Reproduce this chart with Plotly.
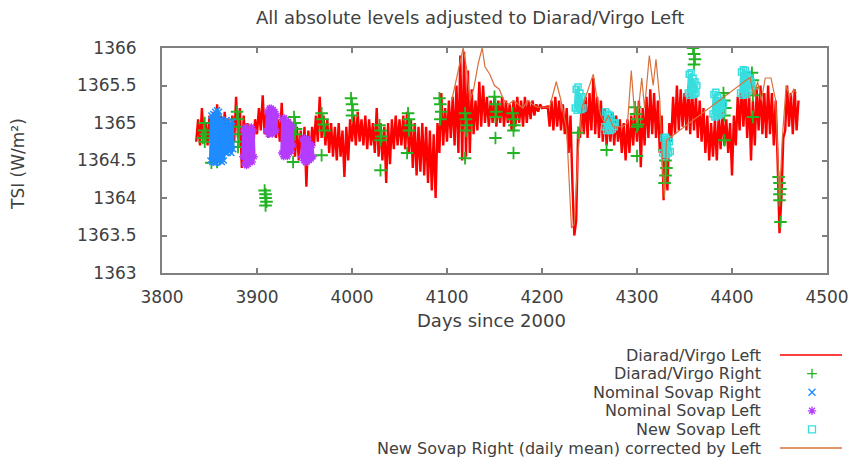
import plotly.graph_objects as go

# ---------------- data ----------------
red_first_day, red_step = 3836, 2
red_vals = [
    1364.75, 1365.05, 1364.7, 1365.2, 1364.8, 1365.0, 1364.7, 1365.1, 1364.65, 1365.15,
    1364.7, 1365.25, 1364.75, 1365.1, 1364.7, 1365.15, 1364.8, 1365.05, 1364.7, 1365.1,
    1364.75, 1365.35, 1364.8, 1365.2, 1364.4, 1365.1, 1364.7, 1365.0, 1364.6, 1364.95,
    1364.65, 1365.05, 1364.85, 1365.2, 1364.9, 1365.37, 1364.85, 1365.15, 1364.8, 1365.1,
    1364.85, 1365.1, 1364.8, 1365.05, 1364.75, 1365.27, 1364.7, 1365.0, 1364.75, 1365.05,
    1364.6, 1365.0, 1364.55, 1364.95, 1364.5, 1364.9, 1364.55, 1364.95, 1364.15, 1364.9,
    1364.5, 1364.95, 1364.7, 1365.1, 1364.75, 1365.35, 1364.8, 1365.1, 1364.7, 1365.05,
    1364.6, 1365.0, 1364.55, 1364.95, 1364.5, 1365.0, 1364.55, 1364.9, 1364.28, 1364.95,
    1364.5, 1365.05, 1364.75, 1365.1, 1364.7, 1365.15, 1364.75, 1365.05, 1364.7, 1365.1,
    1364.65, 1365.05, 1364.7, 1365.0, 1364.6, 1365.2, 1364.55, 1365.0, 1364.5, 1364.95,
    1364.2, 1365.0, 1364.45, 1365.05, 1364.65, 1365.1, 1364.7, 1365.05, 1364.7, 1365.1,
    1364.65, 1365.15, 1364.6, 1365.05, 1364.4, 1365.0, 1364.3, 1364.95, 1364.35, 1365.0,
    1364.3, 1364.95, 1364.2, 1364.9, 1364.1, 1364.85, 1364.0, 1365.0, 1364.6, 1365.4,
    1364.7, 1365.2, 1364.75, 1365.3, 1364.8, 1365.35, 1364.7, 1365.5, 1364.6, 1365.9,
    1364.5, 1365.95, 1364.55, 1365.7, 1364.6, 1365.45, 1364.85, 1365.3, 1364.9, 1365.55,
    1364.95, 1365.5, 1365.0, 1365.35, 1364.95, 1365.3, 1365.0, 1365.35, 1364.95, 1365.3,
    1365.0, 1365.35, 1364.95, 1365.3, 1365.0, 1365.25, 1364.9, 1365.3, 1364.95, 1365.35,
    1365.0, 1365.3, 1364.95, 1365.35, 1365.0, 1365.3, 1365.05, 1365.3, 1365.1, 1365.25,
    1365.15, 1365.25, 1365.2, 1365.21, 1365.21, 1365.22, 1364.95, 1365.3, 1364.9, 1365.35,
    1364.95, 1365.3, 1364.9, 1365.25, 1364.85, 1365.2, 1364.6, 1365.1, 1364.2, 1363.5,
    1363.7, 1364.9, 1364.8, 1365.3, 1364.85, 1365.35, 1364.8, 1365.4, 1364.9, 1365.6,
    1364.85, 1365.35, 1364.8, 1365.3, 1364.75, 1365.2, 1364.7, 1365.1, 1364.75, 1365.15,
    1364.7, 1365.1, 1364.75, 1365.05, 1364.6, 1365.0, 1364.5, 1365.05, 1364.6, 1365.1,
    1364.7, 1365.2, 1364.75, 1365.3, 1364.41, 1365.2, 1364.7, 1365.35, 1364.8, 1365.45,
    1364.85, 1365.4, 1364.8, 1365.3, 1364.6, 1365.1, 1363.97, 1364.7, 1364.1, 1365.0,
    1364.75, 1365.35, 1364.85, 1365.5, 1364.9, 1365.45, 1364.95, 1365.4, 1364.9, 1365.5,
    1364.85, 1365.45, 1364.9, 1365.35, 1364.8, 1365.3, 1364.75, 1365.2, 1364.6, 1365.1,
    1364.5, 1365.0, 1364.55, 1365.05, 1364.5, 1365.1, 1364.65, 1365.15, 1364.7, 1365.05,
    1364.6, 1365.0, 1364.3, 1365.1, 1364.7, 1365.35, 1364.9, 1365.5, 1364.95, 1365.45,
    1364.8, 1365.4, 1364.5, 1365.3, 1364.7, 1365.45, 1364.9, 1365.5, 1364.85, 1365.4,
    1364.8, 1365.5, 1364.85, 1365.4, 1364.7, 1365.3, 1364.5, 1363.53, 1364.0, 1364.8,
    1364.9, 1365.5, 1364.95, 1365.4, 1364.85, 1365.45, 1364.9, 1365.3,
]

green_day = [3843, 3844, 3845, 3846, 3845, 3852, 3858,
             3879, 3880, 3881, 3880, 3881, 3880,
             3908, 3909, 3909, 3910, 3909,
             3939, 3940, 3941, 3940, 3938, 3968,
             3968, 3969, 3970, 3971,
             3999, 4000, 4001, 4000,
             4029, 4030, 4031, 4030, 4030,
             4059, 4060, 4061, 4060, 4058,
             4092, 4093, 4094, 4093,
             4119, 4120, 4121, 4120, 4119,
             4150, 4151, 4152, 4151, 4151,
             4169, 4170, 4171, 4170, 4170,
             4238, 4268,
             4298, 4299, 4300, 4301, 4300, 4300,
             4329, 4330, 4331, 4330, 4329,
             4359, 4360, 4361, 4360,
             4391, 4392, 4393, 4392, 4392,
             4421, 4422, 4423, 4422, 4422,
             4449, 4450, 4451, 4450, 4450, 4451]
green_val = [1364.8, 1364.9, 1365.0, 1364.85, 1364.75, 1364.47, 1364.48,
             1365.15, 1365.05, 1364.95, 1364.85, 1364.75, 1364.68,
             1364.1, 1364.05, 1364.0, 1363.95, 1363.9,
             1365.08, 1365.0, 1364.92, 1364.85, 1364.48, 1364.57,
             1365.13, 1365.05, 1364.98, 1364.9,
             1365.33, 1365.25, 1365.17, 1365.1,
             1364.97, 1364.9, 1364.82, 1364.77, 1364.37,
             1365.13, 1365.05, 1364.97, 1364.9, 1364.6,
             1365.33, 1365.25, 1365.15, 1365.05,
             1365.13, 1365.05, 1364.97, 1364.9, 1364.53,
             1365.35, 1365.25, 1365.15, 1365.08, 1364.8,
             1365.13, 1365.05, 1364.97, 1364.9, 1364.6,
             1364.87, 1364.64,
             1365.21, 1365.12, 1365.05, 1364.98, 1364.95, 1364.56,
             1364.64, 1364.5, 1364.4, 1364.3, 1364.2,
             1366.0, 1365.92, 1365.85, 1365.78,
             1365.4, 1365.3, 1365.2, 1365.1, 1364.77,
             1365.67, 1365.57, 1365.47, 1365.37, 1365.08,
             1364.28, 1364.2, 1364.12, 1364.05, 1363.97, 1363.68]

blue_day = list(range(3851, 3876))
blue_val = [1364.5, 1365.1, 1364.48, 1365.12, 1364.47, 1365.15, 1364.47, 1365.17, 1364.48,
            1365.15, 1364.5, 1365.05, 1364.48, 1365.03, 1364.5, 1365.02, 1364.6, 1365.04,
            1364.6, 1365.02, 1364.62, 1365.0, 1364.6, 1365.02, 1364.65]

purple_first_days = [3885, 3910, 3926, 3947]
purple_vals = [
    [1364.55, 1364.9, 1364.45, 1364.95, 1364.43, 1364.9, 1364.45, 1364.85, 1364.5, 1364.95, 1364.48, 1364.9, 1364.55],
    [1364.9, 1365.15, 1364.85, 1365.2, 1364.87, 1365.2, 1364.85, 1365.18, 1364.88, 1365.15, 1364.9, 1365.1],
    [1364.6, 1365.05, 1364.55, 1365.07, 1364.58, 1365.0, 1364.55, 1365.02, 1364.6, 1364.98, 1364.62, 1364.95, 1364.7],
    [1364.55, 1364.78, 1364.5, 1364.8, 1364.47, 1364.75, 1364.48, 1364.78, 1364.5, 1364.72, 1364.52, 1364.7, 1364.55],
]

cyan_first_days = [4235, 4266, 4327, 4354, 4380, 4409]
cyan_vals = [
    [1365.2, 1365.45, 1365.17, 1365.48, 1365.2, 1365.4, 1365.18, 1365.35, 1365.2],
    [1364.95, 1365.15, 1364.9, 1365.12, 1364.92, 1365.1, 1364.9, 1365.05, 1364.92, 1365.0, 1364.95, 1365.0],
    [1364.6, 1364.8, 1364.55, 1364.81, 1364.58, 1364.78, 1364.6, 1364.75, 1364.62],
    [1365.4, 1365.65, 1365.37, 1365.67, 1365.4, 1365.6, 1365.38, 1365.55, 1365.4, 1365.5],
    [1365.12, 1365.38, 1365.08, 1365.41, 1365.1, 1365.35, 1365.1, 1365.3, 1365.12, 1365.28, 1365.15, 1365.25],
    [1365.4, 1365.68, 1365.37, 1365.71, 1365.4, 1365.7, 1365.38, 1365.65, 1365.42, 1365.6, 1365.45, 1365.55, 1365.5],
]

orange_day = [4105, 4110, 4117, 4121, 4124, 4128, 4133, 4137, 4140, 4145, 4150, 4155, 4160,
              4165, 4170, 4180, 4185, 4190, 4195, 4208, 4212, 4215, 4220, 4226, 4231, 4234,
              4238, 4242, 4246, 4250, 4254, 4257, 4262, 4266, 4270, 4275, 4285, 4290, 4294,
              4297, 4300, 4305, 4308, 4313, 4317, 4320, 4324, 4327, 4329, 4331, 4419, 4423,
              4427, 4431, 4435, 4441, 4446, 4450, 4453, 4457, 4461, 4465, 4468]
orange_val = [1365.3, 1365.6, 1366.0, 1365.7, 1365.3, 1365.45, 1365.8, 1366.0, 1365.75, 1365.65,
              1365.5, 1365.45, 1365.3, 1365.25, 1365.3, 1365.2, 1365.3, 1365.25, 1365.21, 1365.21,
              1365.4, 1365.55, 1365.3, 1364.9, 1363.6, 1363.65, 1364.6, 1365.2, 1365.35, 1365.5,
              1365.65, 1365.4, 1365.1, 1365.0, 1365.1, 1364.95, 1364.95, 1365.0, 1365.7, 1365.2,
              1365.0, 1365.6, 1365.2, 1365.9, 1365.5, 1365.85, 1365.3, 1364.4, 1364.0, 1364.77,
              1365.61, 1365.35, 1365.55, 1365.3, 1365.6, 1365.6, 1365.3, 1364.0, 1364.8, 1365.5,
              1365.35, 1365.45, 1365.4]

series_names = ["Diarad/Virgo Left", "Diarad/Virgo Right", "Nominal Sovap Right",
                "Nominal Sovap Left", "New Sovap Left",
                "New Sovap Right (daily mean) corrected by Left"]
x_ticks = [3800, 3900, 4000, 4100, 4200, 4300, 4400, 4500]
y_ticks = [1363, 1363.5, 1364, 1364.5, 1365, 1365.5, 1366]
y_tick_text = ["1363", "1363.5", "1364", "1364.5", "1365", "1365.5", "1366"]

# ---------------- styles ----------------
RED = "#ff0000"
GREEN = "#22b422"
BLUE = "#1e8cff"
PURPLE = "#b43cff"
CYAN = "#38dede"
ORANGE = "#d9703c"
TEXT = "#404040"
AXIS = "#808080"
FONT = "DejaVu Sans"

red_days = list(range(red_first_day, red_first_day + red_step * len(red_vals), red_step))


def blocks(first_days, vals):
    xs, ys = [], []
    for d0, v in zip(first_days, vals):
        xs += list(range(d0, d0 + len(v))) + [None]
        ys += list(v) + [None]
    return xs, ys


purple_x, purple_y = blocks(purple_first_days, purple_vals)
cyan_x, cyan_y = blocks(cyan_first_days, cyan_vals)

fig = go.Figure()
fig.add_trace(go.Scatter(x=red_days, y=red_vals, mode="lines",
                         line=dict(color=RED, width=2.4), name=series_names[0]))
fig.add_trace(go.Scatter(x=green_day, y=green_val, mode="markers",
                         marker=dict(symbol="cross-thin-open", size=9, color=GREEN,
                                     line=dict(color=GREEN, width=1.8)),
                         name=series_names[1]))
fig.add_trace(go.Scatter(x=blue_day, y=blue_val, mode="lines+markers",
                         line=dict(color=BLUE, width=3),
                         marker=dict(symbol="x-thin-open", size=6, color=BLUE,
                                     line=dict(color=BLUE, width=1.5)),
                         name=series_names[2]))
fig.add_trace(go.Scatter(x=purple_x, y=purple_y, mode="lines+markers",
                         line=dict(color=PURPLE, width=3),
                         marker=dict(symbol="asterisk-open", size=6, color=PURPLE,
                                     line=dict(color=PURPLE, width=1.5)),
                         name=series_names[3]))
fig.add_trace(go.Scatter(x=cyan_x, y=cyan_y, mode="lines+markers",
                         line=dict(color=CYAN, width=3),
                         marker=dict(symbol="square-open", size=6, color=CYAN,
                                     line=dict(color=CYAN, width=1.5)),
                         name=series_names[4]))
fig.add_trace(go.Scatter(x=orange_day, y=orange_val, mode="lines",
                         line=dict(color=ORANGE, width=1.2), name=series_names[5]))

# ---------------- custom legend (text left of sample, as in the reference) ----------------
row_y = [355, 373.6, 392.2, 410.8, 429.4, 448]
sample_x = [780, 842]
sample_sym = [None, ("cross-thin-open", GREEN), ("x-thin-open", BLUE),
              ("asterisk-open", PURPLE), ("square-open", CYAN), None]
line_cols = [RED, None, None, None, None, ORANGE]
for i, name in enumerate(series_names):
    if line_cols[i]:
        fig.add_trace(go.Scatter(x=sample_x, y=[row_y[i]] * 2, mode="lines",
                                 line=dict(color=line_cols[i], width=1.3),
                                 xaxis="x2", yaxis="y2", showlegend=False, hoverinfo="skip"))
    else:
        sym, col = sample_sym[i]
        fig.add_trace(go.Scatter(x=[812], y=[row_y[i]], mode="markers",
                                 marker=dict(symbol=sym, size=7, color=col,
                                             line=dict(color=col, width=1.3)),
                                 xaxis="x2", yaxis="y2", showlegend=False, hoverinfo="skip"))
    fig.add_annotation(x=763, y=row_y[i], xref="x2", yref="y2", text=name, showarrow=False,
                       xanchor="right", yanchor="middle",
                       font=dict(family=FONT, size=16, color=TEXT))

W, H = 852, 461
ML, MT = 162, 48
PW, PH = W - ML, H - MT
plot_right, plot_bottom = 827, 273


def px_x(px):
    return (px - ML) / PW


def px_y(py):
    return 1 - (py - MT) / PH


axis_common = dict(showline=True, linecolor=AXIS, linewidth=2, mirror="ticks",
                   ticks="inside", ticklen=5, tickwidth=1.5, tickcolor=AXIS,
                   showgrid=False, zeroline=False,
                   tickfont=dict(family=FONT, size=17, color=TEXT))

fig.update_layout(
    width=W, height=H, autosize=False,
    margin=dict(l=ML, r=0, t=MT, b=0, pad=0),
    paper_bgcolor="white", plot_bgcolor="white",
    showlegend=False,
    xaxis=dict(range=[3800, 4500], tickvals=x_ticks, domain=[0, px_x(plot_right)],
               ticklabelstandoff=8, automargin=False, **axis_common),
    yaxis=dict(range=[1363, 1366], tickvals=y_ticks, ticktext=y_tick_text,
               domain=[px_y(plot_bottom), 1],
               ticklabelstandoff=20, automargin=False, **axis_common),
    xaxis2=dict(domain=[px_x(540), 1], range=[540, 852], visible=False, fixedrange=True),
    yaxis2=dict(domain=[0, px_y(340)], range=[461, 340], visible=False, fixedrange=True),
)

fig.add_annotation(x=px_x(470), y=px_y(18), xref="paper", yref="paper",
                   text="All absolute levels adjusted to Diarad/Virgo Left", showarrow=False,
                   xanchor="center", yanchor="middle", font=dict(family=FONT, size=18, color=TEXT))
fig.add_annotation(x=px_x(491), y=px_y(320), xref="paper", yref="paper",
                   text="Days since 2000", showarrow=False,
                   xanchor="center", yanchor="middle", font=dict(family=FONT, size=18, color=TEXT))
fig.add_annotation(x=px_x(18), y=px_y(164), xref="paper", yref="paper",
                   text="TSI (W/m²)", showarrow=False, textangle=-90,
                   xanchor="center", yanchor="middle", font=dict(family=FONT, size=17, color=TEXT))

fig.write_html("out.html")
